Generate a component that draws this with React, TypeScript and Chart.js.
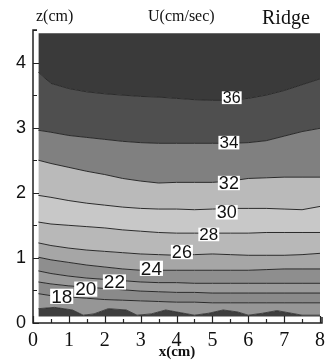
import React, { useEffect, useRef } from "react";
import { Chart, registerables } from "chart.js";

Chart.register(...registerables);

// x positions (cm) at which contour heights were read
const xs = [0.15, 0.5, 1, 1.5, 2, 2.5, 3, 3.5, 4, 4.5, 5, 5.5, 6, 6.5, 7, 7.5, 8];

// contour heights z (cm) for each U level (cm/sec)
const topEdge = [4.45, 4.45, 4.45, 4.45, 4.45, 4.45, 4.45, 4.45, 4.45, 4.45, 4.45, 4.45, 4.45, 4.45, 4.45, 4.45, 4.45];
const c36 = [3.85, 3.68, 3.6, 3.55, 3.52, 3.5, 3.48, 3.47, 3.45, 3.43, 3.42, 3.42, 3.45, 3.5, 3.57, 3.66, 3.75];
const c34 = [2.96, 2.93, 2.88, 2.85, 2.82, 2.79, 2.77, 2.76, 2.76, 2.76, 2.76, 2.76, 2.77, 2.8, 2.87, 2.94, 2.99];
const c32 = [2.5, 2.45, 2.39, 2.33, 2.28, 2.22, 2.18, 2.15, 2.16, 2.16, 2.16, 2.18, 2.22, 2.23, 2.24, 2.24, 2.24];
const c30 = [1.96, 1.93, 1.88, 1.84, 1.81, 1.78, 1.76, 1.75, 1.75, 1.74, 1.75, 1.76, 1.76, 1.76, 1.75, 1.74, 1.79];
const c28 = [1.55, 1.52, 1.5, 1.48, 1.46, 1.43, 1.41, 1.39, 1.38, 1.38, 1.38, 1.38, 1.38, 1.39, 1.39, 1.39, 1.39];
const c26 = [1.23, 1.19, 1.15, 1.12, 1.1, 1.08, 1.06, 1.05, 1.04, 1.05, 1.06, 1.05, 1.04, 1.04, 1.04, 1.05, 1.07];
const c24 = [1.01, 0.97, 0.93, 0.89, 0.86, 0.83, 0.81, 0.81, 0.81, 0.81, 0.81, 0.81, 0.81, 0.82, 0.83, 0.83, 0.83];
const c22 = [0.8, 0.76, 0.72, 0.69, 0.67, 0.65, 0.63, 0.62, 0.62, 0.61, 0.61, 0.61, 0.61, 0.61, 0.61, 0.61, 0.61];
const c20 = [0.63, 0.6, 0.57, 0.55, 0.53, 0.51, 0.49, 0.48, 0.47, 0.47, 0.46, 0.46, 0.46, 0.46, 0.46, 0.46, 0.46];
const c18 = [0.45, 0.42, 0.4, 0.38, 0.36, 0.35, 0.34, 0.33, 0.32, 0.32, 0.31, 0.31, 0.31, 0.31, 0.31, 0.31, 0.31];

// bumpy lowest contour near the bed
const xsBed = [0.15, 0.6, 1.1, 1.4, 1.7, 2.1, 2.6, 2.9, 3.3, 3.7, 4.1, 4.5, 4.9, 5.3, 5.7, 6.0, 6.4, 6.8, 7.2, 7.5, 8.0];
const c16 = [0.22, 0.24, 0.2, 0.12, 0.14, 0.22, 0.2, 0.12, 0.14, 0.2, 0.16, 0.12, 0.15, 0.2, 0.17, 0.12, 0.15, 0.19, 0.15, 0.12, 0.12];
const bottomEdge = [0.1, 0.1];
const xsBottom = [0.15, 8];

// band shades, top to bottom
const bandColors = ["#3a3a3a", "#4f4f4f", "#808080", "#bababa", "#c8c8c8", "#b8b8b8", "#a6a6a6", "#8e8e8e", "#9a9a9a", "#8a8a8a", "#969696", "#3e3e3e"];

// contour labels
const labelText = ["36", "34", "32", "30", "28", "26", "24", "22", "20", "18"];
const labelX = [5.54, 5.46, 5.46, 5.4, 4.9, 4.15, 3.3, 2.27, 1.47, 0.8];
const labelZ = [3.46, 2.77, 2.15, 1.7, 1.36, 1.09, 0.84, 0.63, 0.52, 0.41];
const labelSize = [16, 17, 18, 18, 17, 18, 19, 19, 19, 19];

const xTicks = [0, 1, 2, 3, 4, 5, 6, 7, 8];
const zTicks = [0, 1, 2, 3, 4];

const pts = (xv: number[], zv: number[]) => xv.map((x, i) => ({ x, y: zv[i] }));

export default function App() {
  const ref = useRef<HTMLCanvasElement | null>(null);
  useEffect(() => {
    document.body.style.margin = "0";
    const contours = [c36, c34, c32, c30, c28, c26, c24, c22, c20, c18];
    const datasets: any[] = [];
    datasets.push({ data: pts(xs, topEdge), borderWidth: 0, pointRadius: 0, fill: false });
    contours.forEach((c, i) => {
      datasets.push({
        data: pts(xs, c),
        borderColor: "#2a2a2a",
        borderWidth: 1,
        pointRadius: 0,
        fill: "-1",
        backgroundColor: bandColors[i],
      });
    });
    datasets.push({ data: pts(xsBed, c16), borderColor: "#2a2a2a", borderWidth: 0.8, pointRadius: 0, fill: "-1", backgroundColor: bandColors[10] });
    datasets.push({ data: pts(xsBottom, bottomEdge), borderWidth: 0, pointRadius: 0, fill: "-1", backgroundColor: bandColors[11] });

    const decor = {
      id: "decor",
      afterDatasetsDraw(chart: any) {
        const ctx = chart.ctx;
        const xs_ = chart.scales.x;
        const ys_ = chart.scales.y;
        ctx.save();
        ctx.textAlign = "center";
        ctx.textBaseline = "middle";
        labelText.forEach((t, i) => {
          ctx.font = `${labelSize[i]}px 'Liberation Sans', Arial, sans-serif`;
          const px = xs_.getPixelForValue(labelX[i]);
          const py = ys_.getPixelForValue(labelZ[i]);
          const w = ctx.measureText(t).width + 2;
          const h = labelSize[i] * 0.8;
          ctx.fillStyle = "#ffffff";
          ctx.fillRect(px - w / 2, py - h / 2, w, h);
          ctx.fillStyle = "#111";
          ctx.fillText(t, px, py + 1);
        });
        ctx.restore();
      },
      afterDraw(chart: any) {
        const ctx = chart.ctx;
        const a = chart.chartArea;
        const xs_ = chart.scales.x;
        const ys_ = chart.scales.y;
        ctx.save();
        ctx.strokeStyle = "#222";
        ctx.lineWidth = 1.5;
        ctx.beginPath();
        ctx.moveTo(a.left + 4, a.top);
        ctx.lineTo(a.left, a.top);
        ctx.lineTo(a.left, a.bottom);
        ctx.lineTo(a.right + 2, a.bottom);
        ctx.lineTo(a.right + 2, a.bottom - 6);
        ctx.stroke();
        ctx.lineWidth = 1.2;
        ctx.beginPath();
        for (let v = 0; v <= 8.001; v += 0.5) {
          const px = Math.round(xs_.getPixelForValue(v)) + 0.5;
          const len = Math.abs(v - Math.round(v)) < 0.01 ? 7 : 4;
          ctx.moveTo(px, a.bottom);
          ctx.lineTo(px, a.bottom - len);
        }
        for (let v = 0; v <= 4.501; v += 0.5) {
          const py = Math.round(ys_.getPixelForValue(v)) + 0.5;
          const len = Math.abs(v - Math.round(v)) < 0.01 ? 6 : 4;
          ctx.moveTo(a.left, py);
          ctx.lineTo(a.left + len, py);
        }
        ctx.stroke();
        ctx.fillStyle = "#111";
        ctx.textBaseline = "alphabetic";
        ctx.textAlign = "left";
        ctx.font = "16px 'Liberation Serif', 'Times New Roman', serif";
        ctx.fillText("z(cm)", 36, 21);
        ctx.fillText("U(cm/sec)", 148, 21);
        ctx.font = "20px 'Liberation Serif', 'Times New Roman', serif";
        ctx.fillText("Ridge", 262, 24);
        ctx.font = "bold 15px 'Liberation Serif', 'Times New Roman', serif";
        ctx.textAlign = "center";
        ctx.fillText("x(cm)", 177, 356);
        ctx.restore();
      },
    };

    const chart = new Chart(ref.current as HTMLCanvasElement, {
      type: "line",
      data: { datasets },
      options: {
        animation: false,
        responsive: false,
        maintainAspectRatio: false,
        layout: { padding: { top: 30, right: 9, left: 0, bottom: 0 } },
        plugins: { legend: { display: false }, tooltip: { enabled: false } },
        scales: {
          x: {
            type: "linear",
            min: 0,
            max: 8,
            afterBuildTicks: (s: any) => { s.ticks = xTicks.map((v) => ({ value: v })); },
            afterFit: (s: any) => { s.height = 37; },
            grid: { display: false, drawTicks: false },
            border: { display: false },
            ticks: { padding: 6, color: "#111", font: { family: "'Liberation Serif', 'Times New Roman', serif", size: 20 }, maxRotation: 0 },
          },
          y: {
            type: "linear",
            min: 0,
            max: 4.5,
            afterBuildTicks: (s: any) => { s.ticks = zTicks.map((v) => ({ value: v })); },
            afterFit: (s: any) => { s.width = 33; },
            grid: { display: false, drawTicks: false },
            border: { display: false },
            ticks: { padding: 7, color: "#111", font: { family: "'Liberation Sans', Arial, sans-serif", size: 18 } },
          },
        },
      } as any,
      plugins: [decor],
    });
    return () => chart.destroy();
  }, []);
  return (
    <div style={{ position: "relative", width: 331, height: 360, background: "#fff" }}>
      <canvas ref={ref} width={331} height={360} style={{ display: "block", width: 331, height: 360 }} />
    </div>
  );
}
